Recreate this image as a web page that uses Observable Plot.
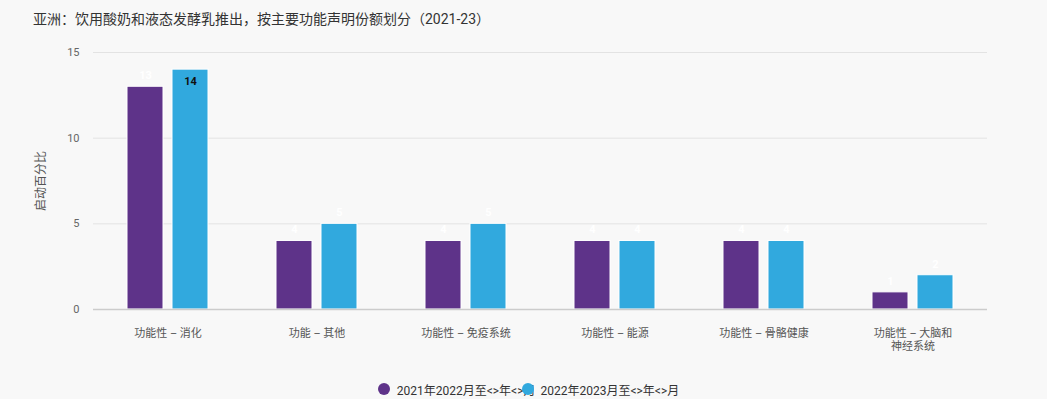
<!DOCTYPE html>
<html><head><meta charset="utf-8">
<script src="https://cdn.jsdelivr.net/npm/d3@7"></script>
<script src="https://cdn.jsdelivr.net/npm/@observablehq/plot@0.6"></script>
<style>
body{margin:0;background:#f8f8f8;font-family:Roboto,"Noto Sans CJK SC",sans-serif;width:1047px;height:399px;overflow:hidden}
#title{height:36px;line-height:38px;padding-left:33px;font-size:14px;color:#333}
#legend{display:flex;justify-content:center;align-items:center;font-size:12px;color:#333;height:30px;margin-top:8px;padding-left:10px}
.item{display:flex;align-items:center}
.dot{width:12px;height:12px;border-radius:50%;margin-right:7px;position:relative;z-index:1}
</style></head><body>
<div id="title">亚洲：饮用酸奶和液态发酵乳推出，按主要功能声明份额划分（2021-23）</div>
<div id="chart"></div>
<div id="legend"></div>
<script>
const categories = ["功能性 – 消化","功能 – 其他","功能性 – 免疫系统","功能性 – 能源","功能性 – 骨骼健康","功能性 – 大脑和神经系统"];
const categoryLabels = ["功能性 – 消化","功能 – 其他","功能性 – 免疫系统","功能性 – 能源","功能性 – 骨骼健康","功能性 – 大脑和\n神经系统"];
const seriesNames = ["2021年2022月至<>年<>月","2022年2023月至<>年<>月"];
const values2021 = [13,4,4,4,4,1];
const values2022 = [14,5,5,4,4,2];
const colors = ["#5e3389","#31a9de"];
const yTicks = [0,5,10,15];

const data = [];
categories.forEach((c,i)=>{
  data.push({cat:c, series:seriesNames[0], value:values2021[i]});
  data.push({cat:c, series:seriesNames[1], value:values2022[i]});
});
const maxV = d3.max(data, d=>d.value);
const labelMap = new Map(categories.map((c,i)=>[c,categoryLabels[i]]));

const chart = Plot.plot({
  width:1047, height:330,
  marginLeft:93, marginRight:60, marginTop:16, marginBottom:57,
  style:{background:"transparent", fontFamily:'Roboto,"Noto Sans CJK SC",sans-serif'},
  fx:{domain:categories, padding:0, label:null, axis:null},
  x:{domain:seriesNames, axis:null, paddingInner:0.2, paddingOuter:0.75},
  y:{domain:[0,15], ticks:yTicks, label:null},
  color:{domain:seriesNames, range:colors},
  marks:[
    Plot.ruleY(yTicks.filter(t=>t>0), {stroke:"#e3e3e3"}),
    Plot.axisY({ticks:yTicks, tickSize:0, tickPadding:14, fontSize:11, fill:"#666", label:null}),
    Plot.axisFx({anchor:"bottom", tickFormat:d=>labelMap.get(d), tickSize:0, tickPadding:18, fontSize:11, fill:"#555", label:null, lineHeight:1.2}),
    Plot.barY(data, {fx:"cat", x:"series", y:"value", fill:"series", stroke:"white", strokeWidth:1}),
    Plot.ruleY([0], {stroke:"#cccccc", strokeWidth:1.5}),
    Plot.text(data.filter(d=>d.value!==maxV), {fx:"cat", x:"series", y:"value", text:d=>String(d.value), dy:-11, fill:"white", fontSize:11, fontWeight:"bold"}),
    Plot.text(data.filter(d=>d.value===maxV), {fx:"cat", x:"series", y:"value", text:d=>String(d.value), dy:12, fill:"#111", fontSize:11, fontWeight:"bold"})
  ]
});
document.getElementById("chart").appendChild(chart);

// y axis title
const svg = d3.select(chart);
svg.append("text").attr("transform","translate(42,145) rotate(-90)").attr("text-anchor","middle")
  .attr("dominant-baseline","middle").attr("font-size",12).attr("fill","#555").text("启动百分比");

const legend = document.getElementById("legend");
seriesNames.forEach((s,i)=>{
  const it = document.createElement("div"); it.className="item";
  if(i>0) it.style.marginLeft="-14px";
  it.innerHTML = `<span class="dot" style="background:${colors[i]}"></span><span>${s.replace(/</g,"&lt;").replace(/>/g,"&gt;")}</span>`;
  legend.appendChild(it);
});
</script>
</body></html>
